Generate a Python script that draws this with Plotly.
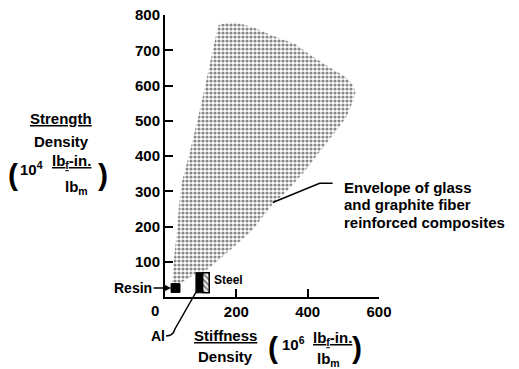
import plotly.graph_objects as go

# ---------------- data ----------------
# Envelope of glass and graphite fiber reinforced composites
env_x = [19.6, 25.2, 33.6, 39.2, 47.6, 70, 102.7, 125.9, 149, 168, 200.6, 251.7, 302, 363.6,
         405.6, 461.5, 503.5, 526, 534, 526, 509, 484, 433.6, 391.6, 341.3, 302, 243.4,
         181.8, 140, 114.7, 106, 86.7, 42]
env_y = [36.5, 109.5, 188, 258, 328, 412.5, 553, 665, 770, 777, 779, 763, 741, 718.5,
         687.6, 651, 626, 603, 581, 553, 511, 477, 412.5, 356.4, 300, 264, 188,
         132, 95.4, 75.8, 69, 66.5, 38.4]

resin_x = [17, 42]
resin_y = [13, 38]
al_x = [86.7, 105.5]
steel_x = [105.5, 124]
metal_y = [12, 69]

x_ticks = [200, 400, 600]
y_ticks = [100, 200, 300, 400, 500, 600, 700, 800]

# ---------------- layout helpers ----------------
# The page body adds an 8px offset, so the figure is sized/placed to compensate.
OFF = 8
SCREEN_W, SCREEN_H = 519, 369
W_FIG, H_FIG = SCREEN_W - OFF, SCREEN_H - OFF
L, T, PW, PH = 165, 15, 214.5, 282          # plot area in screen pixels
FONT = "Liberation Sans, Arial, Helvetica, sans-serif"


def px(x):
    return (x - L) / PW


def py(y):
    return (T + PH - y) / PH


def rect(xr, yr):
    return [xr[0], xr[1], xr[1], xr[0], xr[0]], [yr[0], yr[0], yr[1], yr[1], yr[0]]


fig = go.Figure()

fig.add_trace(go.Scatter(
    x=env_x + [env_x[0]], y=env_y + [env_y[0]], mode="lines", fill="toself",
    line=dict(width=0, color="rgba(0,0,0,0)"),
    fillcolor="white",
    fillpattern=dict(shape=".", size=4, solidity=0.5, fgcolor="#111", bgcolor="white"),
    hoverinfo="skip", showlegend=False))

rx, ry = rect(resin_x, resin_y)
fig.add_trace(go.Scatter(x=rx, y=ry, mode="lines", fill="toself", fillcolor="black",
                         line=dict(color="black", width=1), showlegend=False, hoverinfo="skip"))
ax_, ay_ = rect(al_x, metal_y)
fig.add_trace(go.Scatter(x=ax_, y=ay_, mode="lines", fill="toself", fillcolor="black",
                         line=dict(color="black", width=1), showlegend=False, hoverinfo="skip"))
sx, sy = rect(steel_x, metal_y)
fig.add_trace(go.Scatter(x=sx, y=sy, mode="lines", fill="toself", fillcolor="white",
                         fillpattern=dict(shape="\\", size=4, solidity=0.5, fgcolor="black",
                                          bgcolor="white"),
                         line=dict(color="black", width=1.5), showlegend=False, hoverinfo="skip"))


def ann(text, x, y, size=15, xanchor="center"):
    fig.add_annotation(text=text, x=px(x), y=py(y), xref="paper", yref="paper",
                       showarrow=False, xanchor=xanchor, yanchor="middle",
                       font=dict(family=FONT, size=size, color="black", weight="bold"))


# axis titles (y)
ann("<u>Strength</u>", 61, 118)
ann("Density", 61, 141)
ann("(", 13, 174, size=30)
ann("10<sup>4</sup>", 31, 168)
ann("<u>lb<sub>f</sub>-in.</u>", 71, 162)
ann("lb<sub>m</sub>", 76, 187)
ann(")", 103, 174, size=30)

# axis titles (x)
ann("<u>Stiffness</u>", 226, 335)
ann("Density", 226, 356)
ann("(", 273, 347, size=30)
ann("10<sup>6</sup>", 294, 343)
ann("<u>lb<sub>f</sub>-in.</u>", 333, 338)
ann("lb<sub>m</sub>", 329, 359)
ann(")", 357, 347, size=30)

# shared origin label
ann("0", 155, 310)

# labels
ann("Steel", 212, 280, size=12, xanchor="left")
ann("Al", 158, 336, size=14)
ann("Envelope of glass", 342, 187, size=15, xanchor="left")
ann("and graphite fiber", 342, 204, size=15, xanchor="left")
ann("reinforced composites", 342, 222, size=15, xanchor="left")

# Resin with arrow
fig.add_annotation(text="Resin", x=resin_x[0], y=sum(resin_y) / 2, xref="x", yref="y",
                   showarrow=True, ax=-38, ay=0, arrowhead=2, arrowsize=1, arrowwidth=1.5,
                   arrowcolor="black", standoff=0,
                   font=dict(family=FONT, size=14, color="black", weight="bold"))

# leader lines
fig.add_shape(type="path", xref="paper", yref="paper",
              path=f"M {px(166)},{py(336)} Q {px(173)},{py(336)} {px(175)},{py(329)} L {px(199)},{py(287)}",
              line=dict(color="black", width=1.5))
fig.add_shape(type="path", xref="paper", yref="paper",
              path=f"M {px(273)},{py(202.5)} L {px(320)},{py(183.3)} L {px(333)},{py(183.3)}",
              line=dict(color="black", width=1.5))

axis_common = dict(showline=True, linecolor="black", linewidth=2, ticks="inside",
                   ticklen=8, tickwidth=2, tickcolor="black", showgrid=False, zeroline=False,
                   automargin=False, ticklabeloverflow="allow",
                   tickfont=dict(family=FONT, size=15, color="black", weight="bold"))

fig.update_xaxes(range=[0, 600], tickvals=x_ticks, **axis_common)
fig.update_yaxes(range=[0, 800], tickvals=y_ticks, **axis_common)

fig.update_layout(width=W_FIG, height=H_FIG, autosize=False,
                  margin=dict(l=L - OFF, r=W_FIG - (L - OFF) - PW, t=T - OFF,
                              b=H_FIG - (T - OFF) - PH, autoexpand=False),
                  plot_bgcolor="white", paper_bgcolor="white", showlegend=False)

fig.write_html("out.html")
